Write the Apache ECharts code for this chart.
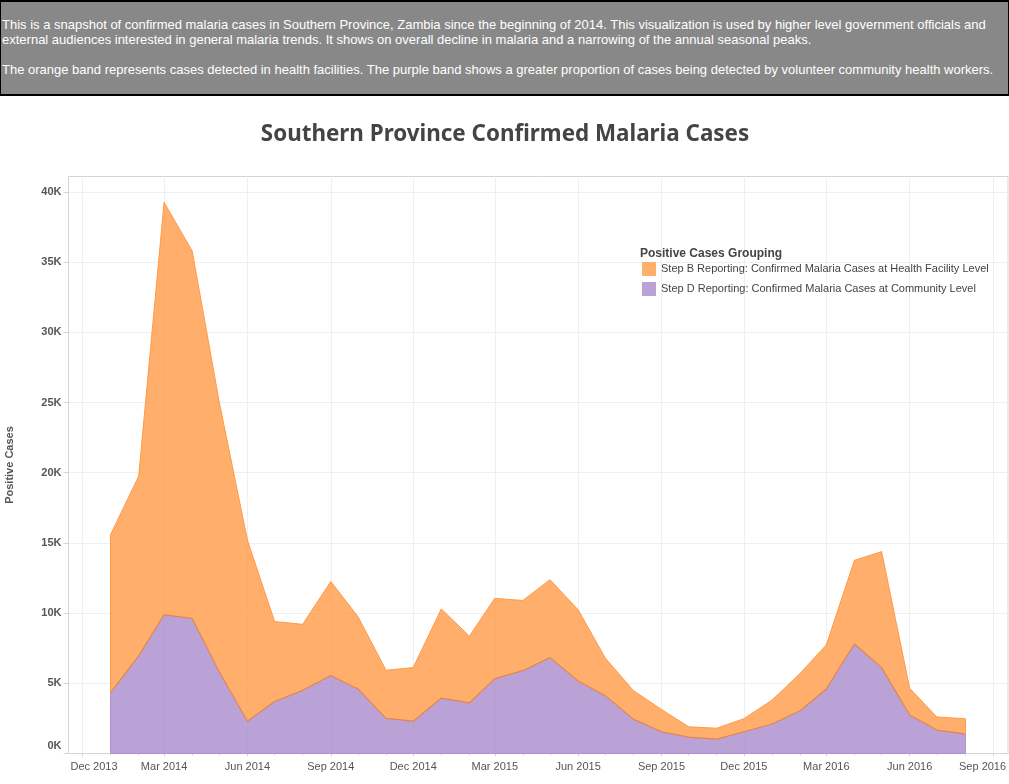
<!DOCTYPE html>
<html>
<head>
<meta charset="utf-8">
<script src="https://cdn.jsdelivr.net/npm/echarts@6/dist/echarts.min.js"></script>
<style>
  body { margin: 0; background: #fff; }
  #note {
    position: absolute; left: 0; top: 0; width: 1009px; height: 96px; box-sizing: border-box;
    background: #888; border: 1px solid #000; border-top-width: 2px; border-bottom-width: 2px;
    color: #fff; font: 13px/15px "Liberation Sans", Arial, sans-serif; padding: 15px 1px 0;
    white-space: nowrap;
  }
  #chart { position: absolute; left: 0; top: 0; width: 1009px; height: 784px; }
</style>
</head>
<body>
<div id="chart"></div>
<div id="note">This is a snapshot of confirmed malaria cases in Southern Province, Zambia since the beginning of 2014. This visualization is used by higher level government officials and<br>external audiences interested in general malaria trends. It shows on overall decline in malaria and a narrowing of the annual seasonal peaks.<br><br>The orange band represents cases detected in health facilities. The purple band shows a greater proportion of cases being detected by volunteer community health workers.</div>
<script>
// monthly points, Jan 2014 - Aug 2016
const months = [
  "2014-01", "2014-02", "2014-03", "2014-04", "2014-05", "2014-06", "2014-07", "2014-08",
  "2014-09", "2014-10", "2014-11", "2014-12", "2015-01", "2015-02", "2015-03", "2015-04",
  "2015-05", "2015-06", "2015-07", "2015-08", "2015-09", "2015-10", "2015-11", "2015-12",
  "2016-01", "2016-02", "2016-03", "2016-04", "2016-05", "2016-06", "2016-07", "2016-08",
];
const community = [
  4330, 6950, 9880, 9620, 5800, 2300, 3700, 4500,
  5550, 4600, 2500, 2300, 3950, 3600, 5330, 5900,
  6830, 5170, 4120, 2450, 1550, 1170, 1020, 1550,
  2100, 3050, 4600, 7800, 6120, 2740, 1670, 1400,
];
const healthFacility = [
  11270, 12810, 29380, 26180, 19200, 12900, 5700, 4700,
  6700, 5150, 3430, 3820, 6350, 4760, 5720, 5000,
  5550, 5070, 2680, 2030, 1590, 730, 780, 930,
  1700, 2650, 3140, 5960, 8260, 1900, 930, 1080,
];
const quarterTicks = [
  "2013-12", "2014-03", "2014-06", "2014-09", "2014-12", "2015-03",
  "2015-06", "2015-09", "2015-12", "2016-03", "2016-06", "2016-09",
];
const quarterLabels = [
  "Dec 2013", "Mar 2014", "Jun 2014", "Sep 2014", "Dec 2014", "Mar 2015",
  "Jun 2015", "Sep 2015", "Dec 2015", "Mar 2016", "Jun 2016", "Sep 2016",
];
const allMonths = ["2013-12"].concat(months, ["2016-09"]);
const caseTicks = [0, 5000, 10000, 15000, 20000, 25000, 30000, 35000, 40000];

const FONT = '"Liberation Sans", Arial, sans-serif';
const toTime = (m) => new Date(m + "-01T00:00:00Z").getTime();
const xMin = toTime("2013-12") - 15.5 * 86400000;
const xMax = toTime("2016-09") + 16.5 * 86400000;
const quarterTimes = quarterTicks.map(toTime);
const pts = (vals) => vals.map((v, i) => [toTime(months[i]), v]);
const t0 = toTime(months[0]);
const tN = toTime(months[months.length - 1]);
const last = months.length - 1;
const seg = (x, y1, y2) => [{ coord: [x, y1] }, { coord: [x, y2] }];

const myChart = echarts.init(document.getElementById("chart"));
myChart.setOption({
  animation: false,
  title: [
    {
      text: "Southern Province Confirmed Malaria Cases",
      left: 500, top: 119, textAlign: "center",
      textStyle: { fontFamily: '"Noto Sans"', fontWeight: "bold", fontSize: 22.4, color: "#444" },
    },
    {
      text: "Positive Cases Grouping",
      left: 640, top: 248,
      textStyle: { fontFamily: FONT, fontWeight: "bold", fontSize: 12, color: "#444" },
      padding: 0,
    },
  ],
  legend: {
    orient: "vertical", left: 642, top: 262, padding: 0,
    itemWidth: 14, itemHeight: 14, itemGap: 6,
    textStyle: { fontFamily: FONT, fontSize: 11, color: "#444", padding: [2, 0, 0, 0] },
    data: [
      { name: "Step B Reporting: Confirmed Malaria Cases at Health Facility Level", icon: "rect", itemStyle: { color: "#ffae6c", borderWidth: 0 } },
      { name: "Step D Reporting: Confirmed Malaria Cases at Community Level", icon: "rect", itemStyle: { color: "#bba2d6", borderWidth: 0 } },
    ],
  },
  grid: { left: 68.5, right: 1, top: 176.5, bottom: 30.5, outerBoundsMode: "none", show: true, borderColor: "#d4d4d4", borderWidth: 1 },
  xAxis: [
    {
      // the series sit on this one
      type: "time", min: xMin, max: xMax,
      axisLine: { show: false }, axisTick: { show: false }, axisLabel: { show: false }, splitLine: { show: false },
    },
    {
      type: "value", min: xMin, max: xMax, position: "bottom",
      axisLine: { show: true, lineStyle: { color: "#d4d4d4" } },
      axisTick: { show: true, length: 3, lineStyle: { color: "#d4d4d4" }, customValues: quarterTimes },
      splitLine: { show: true, lineStyle: { color: "#efefef" } },
      axisLabel: {
        customValues: quarterTimes, margin: 8, showMinLabel: true, showMaxLabel: true, hideOverlap: false,
        fontFamily: FONT, fontSize: 11, color: "#555",
        formatter: (v) => {
          const i = quarterTimes.indexOf(v);
          if (i === 0) return "{first|" + quarterLabels[i] + "}";
          if (i === quarterLabels.length - 1) return "{last|" + quarterLabels[i] + "}";
          return quarterLabels[i];
        },
        rich: {
          first: { fontFamily: FONT, fontSize: 11, color: "#555", padding: [0, 0, 0, 23] },
          last: { fontFamily: FONT, fontSize: 11, color: "#555", padding: [0, 21, 0, 0] },
        },
      },
    },
    {
      // small month ticks only
      type: "value", min: xMin, max: xMax, position: "bottom",
      axisLine: { show: false }, splitLine: { show: false },
      axisTick: { show: true, length: 2, lineStyle: { color: "#d4d4d4" }, customValues: allMonths.map(toTime) },
      axisLabel: { show: false },
    },
  ],
  yAxis: {
    type: "value", min: 0, max: 41100,
    name: "Positive Cases", nameLocation: "middle", nameGap: 53,
    nameTextStyle: { fontFamily: FONT, fontSize: 11, fontWeight: "bold", color: "#555" },
    axisLine: { show: true, lineStyle: { color: "#d4d4d4" } },
    axisTick: { show: true, length: 5, lineStyle: { color: "#d4d4d4" }, customValues: caseTicks },
    splitLine: { show: true, lineStyle: { color: "#efefef" } },
    axisLabel: {
      customValues: caseTicks, margin: 7,
      fontFamily: FONT, fontWeight: "bold", fontSize: 11, color: "#555",
      formatter: (v) => (v === 0 ? "{zero|0K}" : v / 1000 + "K"),
      rich: { zero: { fontFamily: FONT, fontWeight: "bold", fontSize: 11, color: "#555", padding: [0, 0, 16, 0] } },
    },
  },
  series: [
    {
      name: "Step D Reporting: Confirmed Malaria Cases at Community Level",
      type: "line", stack: "cases", data: pts(community), showSymbol: false, z: 3,
      itemStyle: { color: "#aa8bcc" },
      lineStyle: { color: "#e0854f", width: 1.2 },
      areaStyle: { color: "#aa8bcc", opacity: 0.8 },
      markLine: {
        silent: true, symbol: "none", label: { show: false },
        lineStyle: { color: "#b08fd2", type: "solid", width: 1 },
        data: [
          [{ coord: [t0, 0] }, { coord: [tN, 0] }],
          seg(t0, 0, community[0]),
          seg(tN, 0, community[last]),
        ],
      },
    },
    {
      name: "Step B Reporting: Confirmed Malaria Cases at Health Facility Level",
      type: "line", stack: "cases", data: pts(healthFacility), showSymbol: false, z: 2,
      itemStyle: { color: "#ff9a47" },
      lineStyle: { color: "#ff9a47", width: 1 },
      areaStyle: { color: "#ff9a47", opacity: 0.8 },
      markLine: {
        silent: true, symbol: "none", label: { show: false },
        lineStyle: { color: "#ff9a47", type: "solid", width: 1 },
        data: [
          seg(t0, community[0], community[0] + healthFacility[0]),
          seg(tN, community[last], community[last] + healthFacility[last]),
        ],
      },
    },
  ],
});
</script>
</body>
</html>
